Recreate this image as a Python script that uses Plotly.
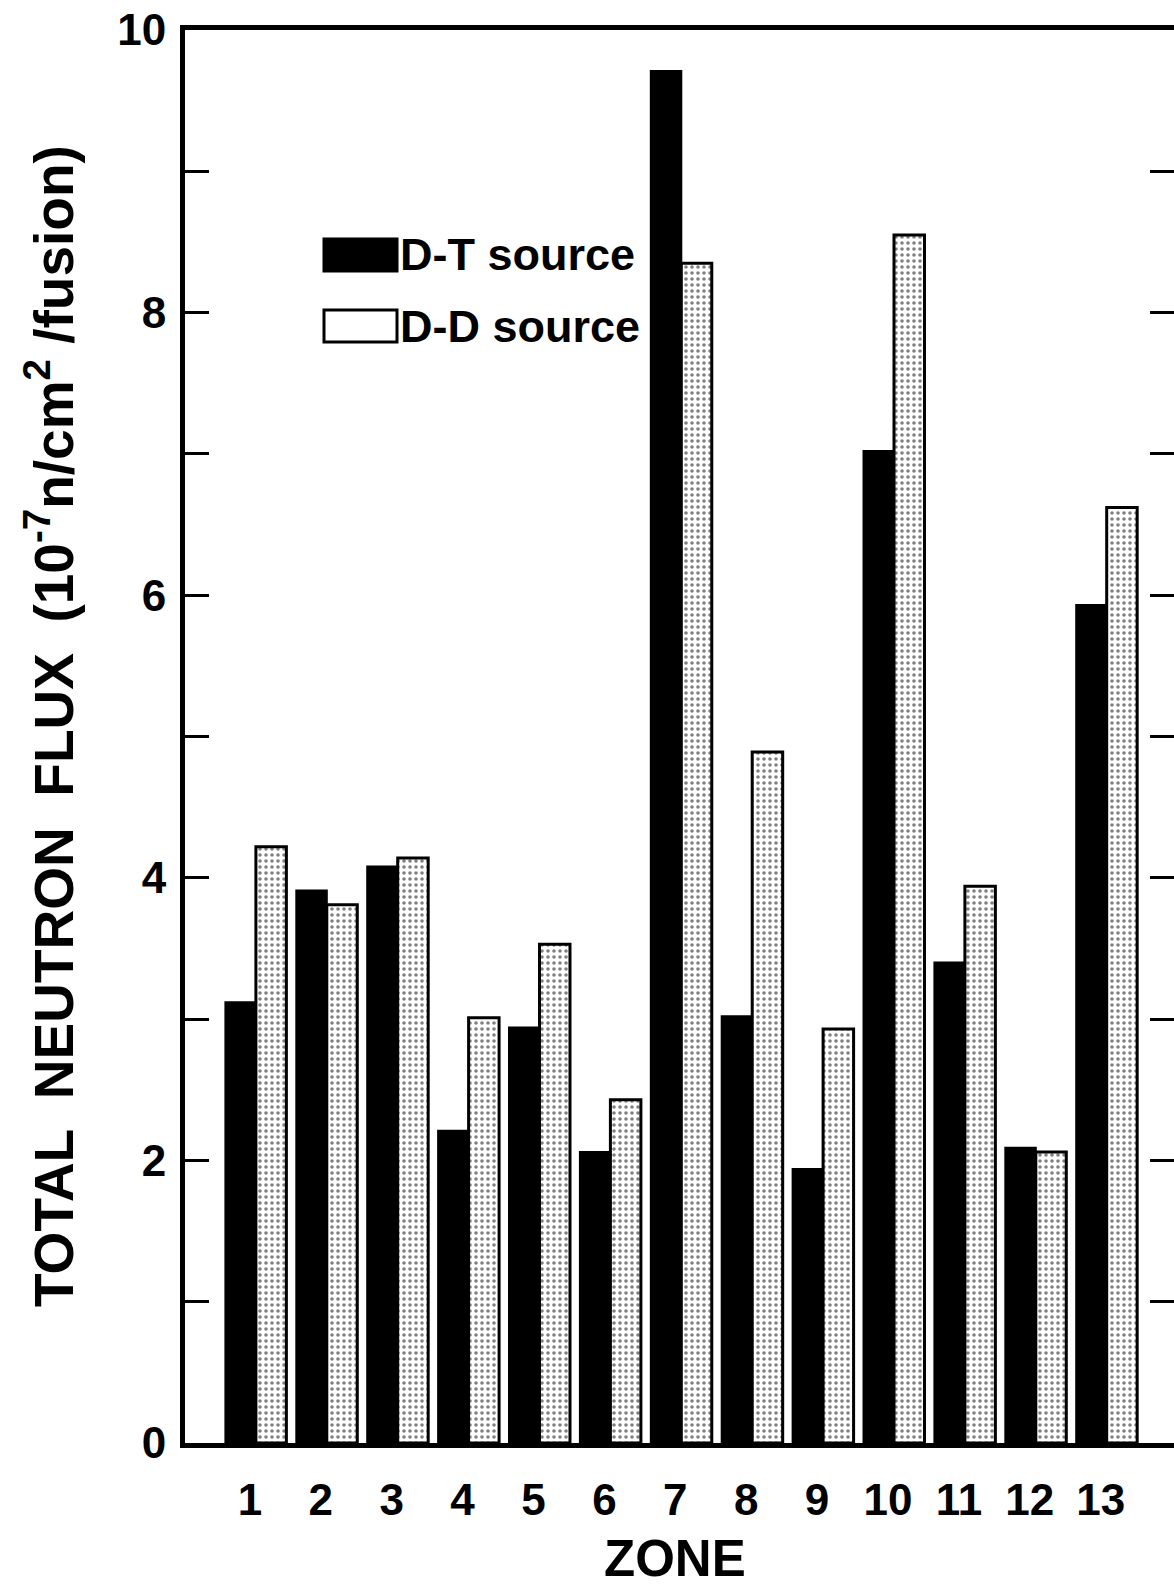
import plotly.graph_objects as go

zones = list(range(1, 14))
zone_labels = [str(z) for z in zones]
dt_flux = [3.12, 3.91, 4.08, 2.21, 2.94, 2.06, 9.71, 3.02, 1.94, 7.02, 3.40, 2.09, 5.93]
dd_flux = [4.22, 3.81, 4.14, 3.01, 3.53, 2.43, 8.35, 4.89, 2.93, 8.55, 3.94, 2.06, 6.62]
y_major = [0, 2, 4, 6, 8, 10]
y_major_text = [str(v) for v in y_major]
y_minor = [1, 3, 5, 7, 9]

W, H = 1174, 1592
L, R, T, B = 185, 1174, 30, 1443  # plot area in px

def px(x):
    return (x - L) / (R - L)

def py(y):
    return (B - y) / (B - T)

FONT = "Liberation Sans"

fig = go.Figure()
fig.add_trace(go.Bar(
    x=zones, y=dt_flux, name="D-T source",
    marker=dict(color="black", line=dict(color="black", width=2)),
))
fig.add_trace(go.Bar(
    x=zones, y=dd_flux, name="D-D source",
    marker=dict(color="white", line=dict(color="black", width=3),
                pattern=dict(shape=".", fgcolor="black", bgcolor="white",
                             size=6, solidity=0.28)),
))
# invisible helper trace so the right-hand (mirrored) tick axis is drawn
fig.add_trace(go.Scatter(
    x=zones, y=dd_flux, yaxis="y2", mode="markers",
    marker=dict(opacity=0), hoverinfo="skip", showlegend=False,
))

tick_style = dict(ticks="inside", ticklen=24, tickwidth=3, tickcolor="black")

fig.update_layout(
    width=W, height=H,
    margin=dict(l=L, r=W - R, t=T, b=H - B),
    paper_bgcolor="white", plot_bgcolor="white",
    barmode="group", bargap=0.14, bargroupgap=0.0,
    showlegend=False,
    font=dict(family=FONT, color="black"),
    yaxis=dict(
        range=[0, 10], tickmode="array", tickvals=y_major, ticktext=y_major_text,
        minor=dict(tickmode="array", tickvals=y_minor, **tick_style),
        showline=True, linecolor="black", linewidth=5, mirror=False,
        showgrid=False, zeroline=False,
        tickfont=dict(family=FONT, size=44, color="black", weight="bold"),
        ticklabelstandoff=5, **tick_style,
    ),
    yaxis2=dict(
        overlaying="y", side="right", range=[0, 10],
        tickmode="array", tickvals=y_major,
        minor=dict(tickmode="array", tickvals=y_minor, **tick_style),
        showticklabels=False, showline=False, showgrid=False, zeroline=False,
        **tick_style,
    ),
    xaxis=dict(
        range=[0, (R - L) / 70.9], tickmode="array", tickvals=zones, ticktext=zone_labels,
        showline=True, linecolor="black", linewidth=5, mirror=True,
        ticks="", showgrid=False, zeroline=False,
        tickfont=dict(family=FONT, size=44, color="black", weight="bold"),
        ticklabelstandoff=14, ticklabelshift=-6,
    ),
)

# Axis titles
fig.add_annotation(
    x=px(50), y=py(726), xref="paper", yref="paper",
    text="TOTAL  NEUTRON  FLUX  (10<sup>-7</sup>n/cm<sup>2</sup> /fusion)",
    textangle=-90, showarrow=False, xanchor="center", yanchor="middle",
    font=dict(family=FONT, size=55, color="black", weight="bold"),
)
fig.add_annotation(
    x=px(675), y=py(1559), xref="paper", yref="paper",
    text="ZONE", showarrow=False, xanchor="center", yanchor="middle",
    font=dict(family=FONT, size=51, color="black", weight="bold"),
)

# Legend (drawn manually with large swatches)
legend_items = [("D-T source", "black", 255), ("D-D source", "white", 326)]
for label, fill, yc in legend_items:
    fig.add_shape(
        type="rect", xref="paper", yref="paper",
        x0=px(324), x1=px(397), y0=py(yc - 16), y1=py(yc + 16),
        fillcolor=fill, line=dict(color="black", width=3),
    )
    fig.add_annotation(
        x=px(398), y=py(yc), xref="paper", yref="paper",
        text=label, showarrow=False, xanchor="left", yanchor="middle",
        font=dict(family=FONT, size=45, color="black", weight="bold"),
    )

fig.write_html(
    "out.html",
    config={"displayModeBar": False},
    post_script="document.body.style.margin='0';document.body.style.padding='0';",
)
